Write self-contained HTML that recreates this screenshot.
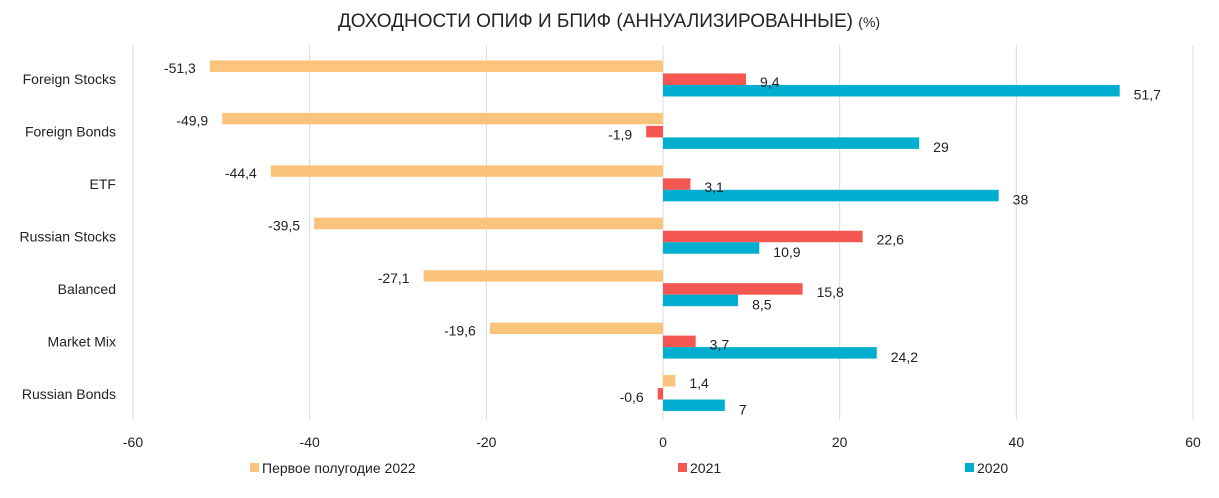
<!DOCTYPE html>
<html><head><meta charset="utf-8"><style>
body{margin:0;background:#fff;font-family:"Liberation Sans",sans-serif;}
svg text{font-family:"Liberation Sans",sans-serif;fill:#222;}
</style></head><body>
<svg id="chart" width="1219" height="493" viewBox="0 0 1219 493">
<text x="609" y="27" text-anchor="middle" font-size="19">ДОХОДНОСТИ ОПИФ И БПИФ (АННУАЛИЗИРОВАННЫЕ) <tspan font-size="14">(%)</tspan></text>
<g id="grid"></g><g id="bars"></g><g id="labels"></g><g id="legend"></g>
</svg>
<script>
const categories=["Foreign Stocks","Foreign Bonds","ETF","Russian Stocks","Balanced","Market Mix","Russian Bonds"];
const h1_2022=[-51.3,-49.9,-44.4,-39.5,-27.1,-19.6,1.4];
const y2021=[9.4,-1.9,3.1,22.6,15.8,3.7,-0.6];
const y2020=[51.7,29,38,10.9,8.5,24.2,7];
const ticks=[-60,-40,-20,0,20,40,60];
const seriesNames=["Первое полугодие 2022","2021","2020"];
const colors=["#FBC47C","#F4574F","#00AECF"];
const NS="http://www.w3.org/2000/svg";
const x0=133,x1=1193,plotTop=53,plotBot=420;
const xs=v=>x0+(v+60)/120*(x1-x0);
const band=(plotBot-plotTop)/categories.length;
const yc=i=>plotTop+band*(i+0.5);
function mk(tag,attrs,parent){const e=document.createElementNS(NS,tag);for(const k in attrs)e.setAttribute(k,attrs[k]);document.getElementById(parent).appendChild(e);return e;}
ticks.forEach(t=>{
 const l=mk('line',{x1:xs(t),x2:xs(t),y1:45,y2:plotBot,stroke:'#d9d9d9','stroke-width':1},'grid');
 
 
 const tx=mk('text',{x:xs(t),y:447,'text-anchor':'middle','font-size':14},'grid');
 tx.textContent=t;
 
 
});
const series=[h1_2022,y2021,y2020];
const offs=[-13,0,11.5];
const bh=11.5;
const fmt=v=>String(v).replace('.',',');
categories.forEach((c,i)=>{
 const cl=mk('text',{x:116,y:yc(i)+5,'text-anchor':'end','font-size':14},'labels');
 cl.textContent=c;
 
 
 series.forEach((s,k)=>{
  const v=s[i];const cy=yc(i)+offs[k];
  const a=xs(0),b=xs(v);
  const r=mk('rect',{x:Math.min(a,b),y:cy-bh/2,width:Math.abs(b-a),height:bh,fill:colors[k]},'bars');
  
  
  let lx,ly,anc;
  if(v<0){lx=b-14;anc='end';}else{lx=b+14;anc='start';}
  ly=k===0?cy+7:cy+(k===1?8:9);
  const t=mk('text',{x:lx,y:ly,'text-anchor':anc,'font-size':14},'labels');
  t.textContent=fmt(v);
  
  
 });
});
const lx=[250,678,965];
seriesNames.forEach((n,k)=>{
 const r=mk('rect',{x:lx[k],y:463,width:9,height:9,fill:colors[k]},'legend');
 
 
 const t=mk('text',{x:lx[k]+12,y:473,'font-size':14},'legend');
 t.textContent=n;
 
 
});
</script>
</body></html>
